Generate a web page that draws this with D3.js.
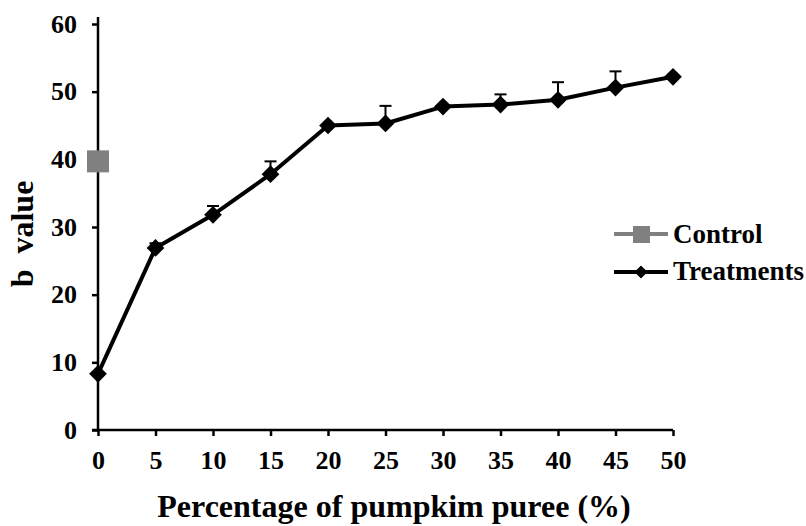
<!DOCTYPE html>
<html>
<head>
<meta charset="utf-8">
<script src="https://cdn.jsdelivr.net/npm/d3@7"></script>
<style>
  body { margin: 0; background: #fff; }
</style>
</head>
<body>
<svg></svg>
<script>
const width = 806;
const height = 526;
const font = "Liberation Serif";
const svg = d3.select("svg").attr("width", width).attr("height", height)
  .attr("font-family", font).attr("font-weight", "bold");

// data
const percent = [0, 5, 10, 15, 20, 25, 30, 35, 40, 45, 50];
const bValue = [8.3, 26.9, 31.8, 37.8, 45.0, 45.3, 47.8, 48.1, 48.8, 50.6, 52.2];
const bError = [0, 0.7, 1.3, 1.9, 0, 2.6, 0, 1.5, 2.6, 2.4, 0];
const controlValue = 39.7;
const yTicks = [0, 10, 20, 30, 40, 50, 60];
const xTicks = [0, 5, 10, 15, 20, 25, 30, 35, 40, 45, 50];

const x = d3.scaleLinear().domain([0, 50]).range([98, 673]);
const y = d3.scaleLinear().domain([0, 60]).range([430, 24]);

// y axis
const yAxis = svg.append("g")
  .attr("transform", "translate(98,0)")
  .call(d3.axisLeft(y).tickValues(yTicks).tickSize(6).tickPadding(15));
yAxis.select(".domain").attr("d", "M0,17V430");

// x axis
const xAxis = svg.append("g")
  .attr("transform", "translate(0,430)")
  .call(d3.axisBottom(x).tickValues(xTicks).tickSize(6).tickPadding(15));
xAxis.select(".domain").attr("d", "M92,0H673");

svg.selectAll("g").attr("font-family", font).attr("font-size", 26);
svg.selectAll(".domain, .tick line").attr("stroke", "#000").attr("stroke-width", 2.5);
svg.selectAll(".tick text")
  .attr("fill", "#000")
  .attr("font-family", font)
  .attr("font-weight", "bold")
  .attr("font-size", 26);

// axis titles
svg.append("text")
  .attr("x", 394)
  .attr("y", 517)
  .attr("text-anchor", "middle")
  .attr("font-size", 32)
  .text("Percentage of pumpkim puree (%)");

svg.append("text")
  .attr("transform", "translate(33,234) rotate(-90)")
  .attr("text-anchor", "middle")
  .attr("font-size", 32)
  .attr("xml:space", "preserve")
  .text("b  value");

// error bars (upper only)
const errs = percent.map((p, i) => ({p, v: bValue[i], e: bError[i]})).filter(d => d.e > 0);
const eb = svg.append("g").attr("stroke", "#000").attr("stroke-width", 2);
eb.selectAll(".ev").data(errs).join("line")
  .attr("class", "ev")
  .attr("x1", d => x(d.p)).attr("x2", d => x(d.p))
  .attr("y1", d => y(d.v)).attr("y2", d => y(d.v + d.e));
eb.selectAll(".ec").data(errs).join("line")
  .attr("class", "ec")
  .attr("x1", d => x(d.p) - 6).attr("x2", d => x(d.p) + 6)
  .attr("y1", d => y(d.v + d.e)).attr("y2", d => y(d.v + d.e));

// treatments line
const line = d3.line().x((d, i) => x(percent[i])).y(d => y(d));
svg.append("path")
  .datum(bValue)
  .attr("d", line)
  .attr("fill", "none")
  .attr("stroke", "#000")
  .attr("stroke-width", 4)
  .attr("stroke-linejoin", "round");

const diamond = d3.symbol().type(d3.symbolDiamond2).size(200);
svg.selectAll(".pt").data(bValue).join("path")
  .attr("class", "pt")
  .attr("d", diamond)
  .attr("transform", (d, i) => `translate(${x(percent[i])},${y(d)})`)
  .attr("fill", "#000");

// control
svg.append("rect")
  .attr("x", x(0) - 11).attr("y", y(controlValue) - 11)
  .attr("width", 22).attr("height", 22)
  .attr("fill", "#808080");

// legend
const legend = svg.append("g").attr("font-family", font).attr("font-weight", "bold").attr("font-size", 27);
legend.append("line").attr("x1", 614).attr("x2", 668).attr("y1", 234).attr("y2", 234)
  .attr("stroke", "#808080").attr("stroke-width", 4);
legend.append("rect").attr("x", 633).attr("y", 226).attr("width", 17).attr("height", 17).attr("fill", "#808080");
legend.append("text").attr("x", 673).attr("y", 243).text("Control");

legend.append("line").attr("x1", 614).attr("x2", 668).attr("y1", 272).attr("y2", 272)
  .attr("stroke", "#000").attr("stroke-width", 4);
legend.append("path").attr("d", d3.symbol().type(d3.symbolDiamond2).size(110))
  .attr("transform", "translate(641,272)").attr("fill", "#000");
legend.append("text").attr("x", 673).attr("y", 280).text("Treatments");
</script>
</body>
</html>
